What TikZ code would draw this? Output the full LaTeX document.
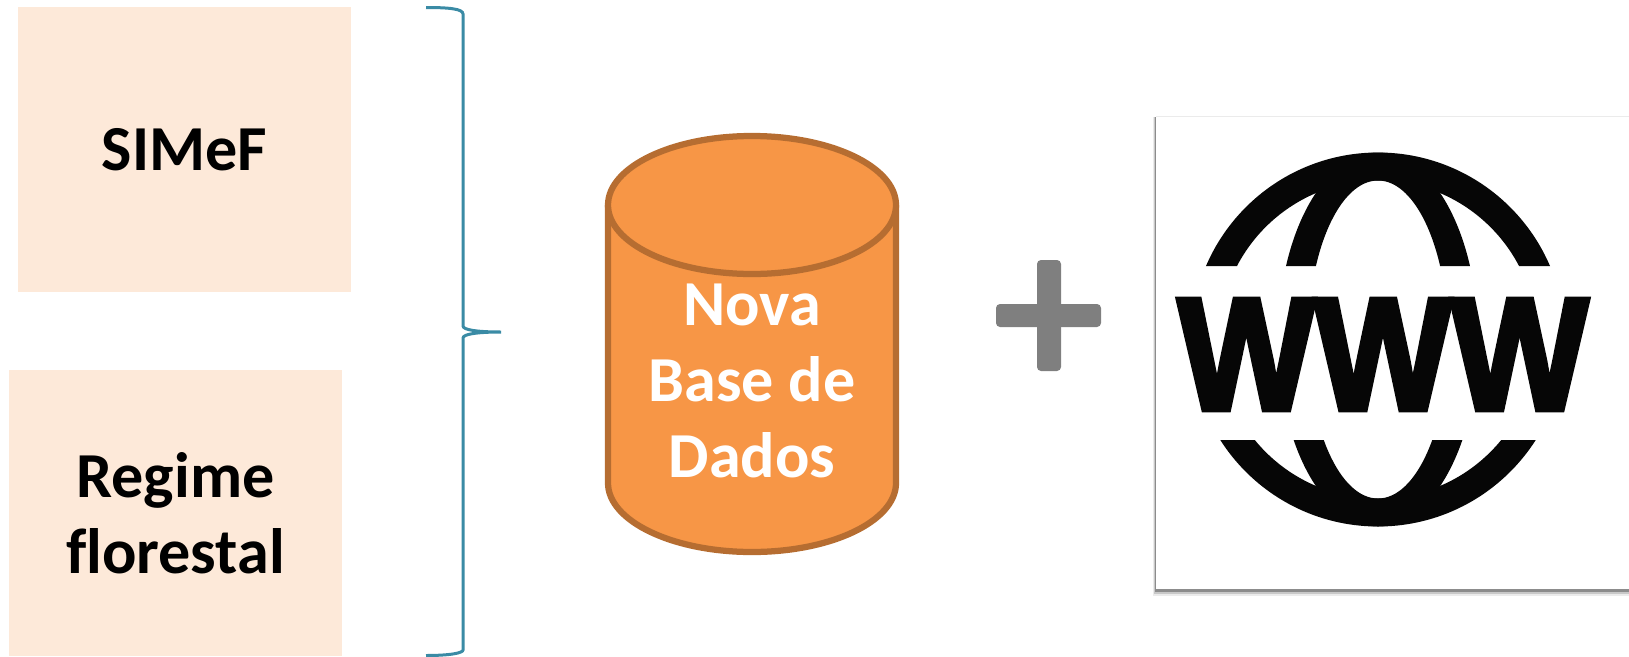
\documentclass[tikz,border=0pt]{standalone}
\usepackage{fontspec}
\setmainfont[Ligatures=NoCommon]{Carlito}
\newfontfamily\wwwfont[BoldFeatures={FakeBold=3.5}]{Liberation Sans}
\definecolor{boxfill}{HTML}{FDE9D9}
\definecolor{drumfill}{HTML}{F79646}
\definecolor{drumline}{HTML}{B66D31}
\definecolor{bracecol}{HTML}{3A8BA5}
\definecolor{plusgray}{HTML}{7F7F7F}
\definecolor{globeink}{HTML}{060606}
\tikzstyle{source}=[fill=boxfill, minimum width=6.66cm, minimum height=5.72cm, inner sep=0pt, align=center, font=\fontsize{36.5}{43.2}\selectfont\bfseries]
\tikzstyle{drum}=[fill=drumfill, draw=drumline, line width=1.25mm]
\tikzstyle{drumtext}=[text=white, inner sep=0pt, align=center, font=\fontsize{36.5}{43.2}\selectfont\bfseries]
\tikzstyle{plusbar}=[fill=plusgray, rounded corners=.8mm]

\begin{document}
\begin{tikzpicture}[x=.02cm, y=-.02cm]
    \useasboundingbox (0,0) rectangle (1629,656);

    \node[source] (simef) at (184.5,149.5) {\raisebox{-2mm}{SIMeF}};
    \node[source] (regime) at (175.5,513) {Regime\\florestal};

    % brace
    \draw[draw=bracecol, line width=.6mm] (426,7.5) .. controls (450,7.5) and (463,9) .. (463,14)
      -- (463,326) .. controls (463,330) and (478,332) .. (501,332)
      .. controls (478,332) and (463,334) .. (463,338)
      -- (463,650) .. controls (463,653) and (450,655.5) .. (426,655.5);

    % cylinder
    \draw[drum] (608,205) -- (608,483) arc (180:0:144 and 69) -- (896,205);
    \draw[drum] (752,205) ellipse (144 and 69);
    \node[drumtext] (nova) at (752,381) {Nova\\Base de\\Dados};

    % plus
    \fill[plusbar] (996,304) rectangle (1101,327);
    \fill[plusbar] (1037,260) rectangle (1061,371);

    % picture frame
    \foreach \i/\o in {7/.08,5/.15,3/.3}{
      \fill[black, opacity=\o] (1156-\i/2,117) rectangle (1640,589+\i);
    }
    \fill[black!8] (1156,116) rectangle (1640,117);
    \fill[white] (1156,117) rectangle (1640,589);

    % globe
    \begin{scope}
      \clip (1150,100) rectangle (1640,266) (1150,440) rectangle (1640,600);
      \fill[globeink, even odd rule] (1378,339.5) circle (187) (1378,339.5) circle (159);
      \fill[globeink, even odd rule] (1378,339.5) ellipse (100 and 187) (1378,339.5) ellipse (70 and 159);
    \end{scope}
    \node[inner sep=0pt, text=globeink] (www) at (1383,354.5) {\resizebox{8.2cm}{2.2cm}{\wwwfont\bfseries WWW}};
\end{tikzpicture}
\end{document}
